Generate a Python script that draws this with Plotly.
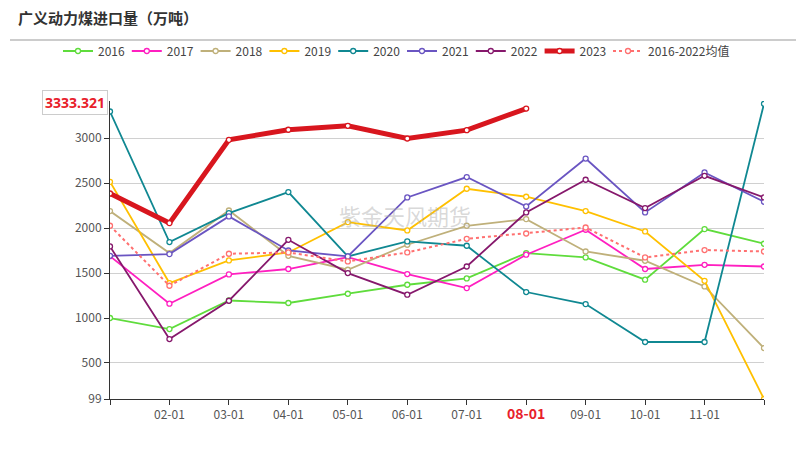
import plotly.graph_objects as go

months = ["01-01", "02-01", "03-01", "04-01", "05-01", "06-01",
          "07-01", "08-01", "09-01", "10-01", "11-01", "12-01"]

y2016 = [1000, 877, 1195, 1167, 1270, 1370, 1440, 1722, 1674, 1426, 1989, 1826]
y2017 = [1688, 1159, 1485, 1545, 1678, 1489, 1333, 1704, 1982, 1545, 1592, 1573]
y2018 = [2190, 1722, 2196, 1692, 1537, 1815, 2026, 2100, 1740, 1637, 1351, 666]
y2019 = [2515, 1389, 1640, 1729, 2067, 1974, 2438, 2349, 2190, 1963, 1414, 99]
y2020 = [3297, 1845, 2167, 2401, 1685, 1852, 1804, 1289, 1155, 733, 733, 3383]
y2021 = [1692, 1711, 2130, 1751, 1685, 2341, 2568, 2241, 2774, 2174, 2619, 2293]
y2022 = [1796, 766, 1192, 1870, 1500, 1259, 1573, 2174, 2538, 2223, 2582, 2341]
y2023 = [2385, 2056, 2982, 3094, 3138, 2997, 3090, 3330]
yavg = [2026, 1359, 1715, 1729, 1629, 1729, 1881, 1940, 2007, 1674, 1756, 1740]

y_ticks = [99, 500, 1000, 1500, 2000, 2500, 3000]
pointer_value = "3333.321"
highlight_month = "08-01"

series = [
    ("2016", y2016, "#5fdc3c", 1.8, "solid", "legend"),
    ("2017", y2017, "#ff1fc0", 1.8, "solid", "legend"),
    ("2018", y2018, "#bfb07a", 1.8, "solid", "legend"),
    ("2019", y2019, "#ffc000", 1.8, "solid", "legend"),
    ("2020", y2020, "#108892", 1.8, "solid", "legend"),
    ("2021", y2021, "#6a55c2", 1.8, "solid", "legend"),
    ("2022", y2022, "#86186c", 1.8, "solid", "legend"),
    ("2023", y2023, "#d8161e", 5, "solid", "legend"),
    ("2016-2022均值", yavg, "#ff7070", 2, "dot", "legend2"),
]

# The page body has an 8px margin, so the figure is drawn 8px smaller and
# all pixel positions below are given in figure coordinates (reference - 8).
OFF = 8
W, H = 806 - OFF, 460 - OFF
L, R, T, B = 110 - OFF, 764 - OFF, 101 - OFF, 399 - OFF
PW, PH = R - L, B - T


def px(x):
    return (x - OFF - L) / PW


def py(y):
    return (B - (y - OFF)) / PH


fig = go.Figure()
for name, ys, color, w, dash, leg in series:
    fig.add_trace(go.Scatter(
        x=months[:len(ys)], y=ys, name=name, mode="lines+markers",
        line=dict(color=color, width=w, dash=dash),
        marker=dict(symbol="circle", size=5, color="white",
                    line=dict(color=color, width=1.3)),
        legend=leg,
    ))

ticktext = []
for m in months:
    if m == highlight_month:
        ticktext.append("<b><span style='color:#e8202a;font-size:14px'>" + m + "</span></b>")
    elif m in ("01-01", "12-01"):
        ticktext.append("")
    else:
        ticktext.append(m)

leg_common = dict(orientation="h", xanchor="left", y=py(51), yanchor="middle",
                  font=dict(size=12, color="#444"), itemwidth=30,
                  bgcolor="rgba(0,0,0,0)", tracegroupgap=0)

fig.update_layout(
    width=W, height=H,
    margin=dict(l=L, r=W - R, t=T, b=H - B, autoexpand=False),
    paper_bgcolor="white", plot_bgcolor="white",
    font=dict(family="Noto Sans CJK SC, Noto Sans, sans-serif", size=12, color="#555"),
    showlegend=True,
    legend=dict(x=px(58), entrywidth=23.8, entrywidthmode="pixels", **leg_common),
    legend2=dict(x=px(58 + 8 * 68.75), **leg_common),
    xaxis=dict(
        type="category", categoryorder="array", categoryarray=months,
        range=[0, 11], tickmode="array", tickvals=months, ticktext=ticktext,
        showline=True, linecolor="#333", linewidth=1,
        ticks="outside", ticklen=5, tickcolor="#333",
        showgrid=False, zeroline=False,
        tickfont=dict(size=12, color="#555"),
    ),
    yaxis=dict(
        range=[99, 3414], tickmode="array", tickvals=y_ticks,
        showline=True, linecolor="#333", linewidth=1,
        ticks="outside", ticklen=5, tickcolor="#333",
        showgrid=True, gridcolor="#d0d0d0", gridwidth=1, zeroline=False,
        tickfont=dict(size=12, color="#555"),
    ),
    title=dict(text="<b>广义动力煤进口量（万吨）</b>", x=(18 - OFF) / W, xref="container",
               y=1 - (19 - OFF) / H, yref="container", xanchor="left", yanchor="middle",
               font=dict(size=15, color="#333",
                         family="Noto Sans CJK SC, sans-serif")),
)

fig.add_shape(type="line", xref="paper", yref="paper",
              x0=px(10), x1=px(796), y0=py(40), y1=py(40),
              line=dict(color="#999", width=1))

fig.add_annotation(text="紫金天风期货", xref="paper", yref="paper",
                   x=px(405), y=py(215), showarrow=False,
                   font=dict(size=22, color="rgba(170,170,170,0.45)",
                             family="Noto Sans CJK SC, sans-serif"))

fig.add_annotation(text="<b>" + pointer_value + "</b>", xref="paper", yref="paper",
                   x=px(108), y=py(102), xanchor="right", yanchor="middle",
                   showarrow=False, bgcolor="white", bordercolor="#ccc", borderwidth=1,
                   borderpad=2,
                   font=dict(size=14, color="#e8202a", family="Noto Sans, sans-serif"))

fig.write_html("out.html")
